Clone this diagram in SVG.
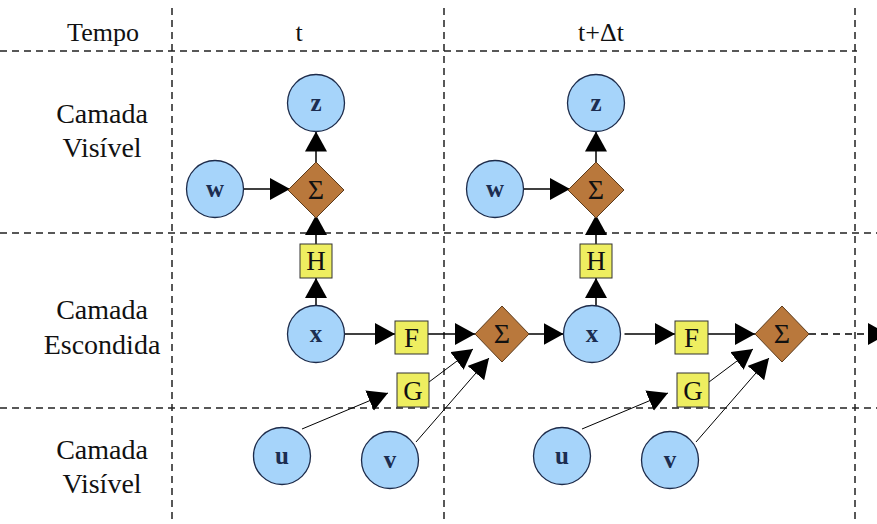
<svg xmlns="http://www.w3.org/2000/svg" width="877" height="524" viewBox="0 0 877 524" font-family="'Liberation Serif', 'DejaVu Serif', 'Times New Roman', serif">
  <defs>
    <style>
      .grid { stroke: #222; stroke-width: 1.5; stroke-dasharray: 7 5; fill: none; }
      .var circle { fill: #a6d4fa; stroke: #1d2b4a; stroke-width: 1.3; }
      .var text { font-size: 25px; font-weight: bold; fill: #1c2d50; text-anchor: middle; }
      .sum polygon { fill: #b9783c; stroke: #5a3a1c; stroke-width: 1; }
      .sum text { font-size: 28px; fill: #111; text-anchor: middle; }
      .fn rect { fill: #eeee60; stroke: #333; stroke-width: 1; }
      .fn text { font-size: 27px; fill: #111; text-anchor: middle; }
      .label { font-size: 28px; fill: #111; text-anchor: middle; }
      .head { font-size: 26px; fill: #111; text-anchor: middle; }
      .conn { stroke: #000; stroke-width: 1.5; fill: none; marker-end: url(#ah); }
      .thin { stroke-width: 1; }
      .dash { stroke-dasharray: 7 5; }
    </style>
    <marker id="ah" markerUnits="userSpaceOnUse" markerWidth="20" markerHeight="22" refX="20" refY="11" orient="auto">
      <path d="M0,0 L20,11 L0,22 Z" fill="#000"/>
    </marker>
  </defs>

  <rect width="877" height="524" fill="#fff"/>

  <!-- layer / time grid -->
  <g id="grid">
    <line class="grid" x1="0" y1="51" x2="857" y2="51"/>
    <line class="grid" x1="0" y1="233" x2="877" y2="233"/>
    <line class="grid" x1="0" y1="408" x2="877" y2="408"/>
    <line class="grid" x1="172" y1="8" x2="172" y2="524"/>
    <line class="grid" x1="444" y1="8" x2="444" y2="524"/>
    <line class="grid" x1="855" y1="8" x2="855" y2="524"/>
  </g>

  <!-- headings -->
  <g id="labels">
    <text class="head" x="103" y="41">Tempo</text>
    <text class="head" x="299" y="41">t</text>
    <text class="head" x="601" y="41">t+Δt</text>
    <text class="label" x="102" y="123">Camada</text>
    <text class="label" x="102" y="157">Visível</text>
    <text class="label" x="102" y="319">Camada</text>
    <text class="label" x="102" y="354">Escondida</text>
    <text class="label" x="102" y="459">Camada</text>
    <text class="label" x="102" y="493">Visível</text>
  </g>

  <!-- connectors -->
  <g id="connectors">
    <!-- time t -->
    <line class="conn" x1="243.5" y1="189" x2="290" y2="189"/>
    <line class="conn" x1="316" y1="163" x2="316" y2="131.5"/>
    <line class="conn" x1="316" y1="244" x2="316" y2="215"/>
    <line class="conn" x1="316" y1="306" x2="316" y2="278"/>
    <line class="conn" x1="344.5" y1="334" x2="395" y2="334"/>
    <line class="conn" x1="428" y1="334" x2="475" y2="334"/>
    <line class="conn thin" x1="302" y1="429" x2="388" y2="393"/>
    <line class="conn thin" x1="429" y1="382" x2="473" y2="349"/>
    <line class="conn thin" x1="416" y1="442" x2="489" y2="358"/>
    <line class="conn" x1="529" y1="334" x2="563.5" y2="334"/>
    <!-- time t+dt -->
    <line class="conn" x1="523.5" y1="189" x2="570" y2="189"/>
    <line class="conn" x1="596" y1="163" x2="596" y2="131.5"/>
    <line class="conn" x1="596" y1="244" x2="596" y2="215"/>
    <line class="conn" x1="596" y1="306" x2="596" y2="278"/>
    <line class="conn" x1="624.5" y1="334" x2="675" y2="334"/>
    <line class="conn" x1="708" y1="334" x2="755" y2="334"/>
    <line class="conn thin" x1="582" y1="429" x2="668" y2="393"/>
    <line class="conn thin" x1="709" y1="382" x2="753" y2="349"/>
    <line class="conn thin" x1="696" y1="442" x2="769" y2="358"/>
    <line class="conn dash" x1="809" y1="334" x2="888" y2="334"/>
  </g>

  <!-- nodes, time t -->
  <g id="z1" class="var"><circle cx="316" cy="103" r="28.5"/><text x="316" y="111">z</text></g>
  <g id="w1" class="var"><circle cx="215" cy="189" r="28.5"/><text x="215" y="197">w</text></g>
  <g id="sum1" class="sum"><polygon points="316,162 344,190 316,218 288,190"/><text x="316" y="199">Σ</text></g>
  <g id="h1" class="fn"><rect x="300" y="244" width="32" height="34"/><text x="316" y="270">H</text></g>
  <g id="x1" class="var"><circle cx="316" cy="334" r="28.5"/><text x="316" y="342">x</text></g>
  <g id="f1" class="fn"><rect x="395" y="321" width="33" height="33"/><text x="411.5" y="347">F</text></g>
  <g id="g1" class="fn"><rect x="397" y="373" width="32" height="34"/><text x="413" y="400">G</text></g>
  <g id="sum2" class="sum"><polygon points="502,306 529,334 502,362 475,334"/><text x="502" y="343">Σ</text></g>
  <g id="u1" class="var"><circle cx="282" cy="456" r="28.5"/><text x="282" y="464">u</text></g>
  <g id="v1" class="var"><circle cx="390" cy="460" r="28.5"/><text x="390" y="468">v</text></g>

  <!-- nodes, time t+dt -->
  <g id="z2" class="var"><circle cx="596" cy="103" r="28.5"/><text x="596" y="111">z</text></g>
  <g id="w2" class="var"><circle cx="495" cy="189" r="28.5"/><text x="495" y="197">w</text></g>
  <g id="sum3" class="sum"><polygon points="596,162 624,190 596,218 568,190"/><text x="596" y="199">Σ</text></g>
  <g id="h2" class="fn"><rect x="580" y="244" width="32" height="34"/><text x="596" y="270">H</text></g>
  <g id="x2" class="var"><circle cx="592" cy="334" r="28.5"/><text x="592" y="342">x</text></g>
  <g id="f2" class="fn"><rect x="675" y="321" width="33" height="33"/><text x="691.5" y="347">F</text></g>
  <g id="g2" class="fn"><rect x="677" y="373" width="32" height="34"/><text x="693" y="400">G</text></g>
  <g id="sum4" class="sum"><polygon points="782,306 809,334 782,362 755,334"/><text x="782" y="343">Σ</text></g>
  <g id="u2" class="var"><circle cx="562" cy="456" r="28.5"/><text x="562" y="464">u</text></g>
  <g id="v2" class="var"><circle cx="670" cy="460" r="28.5"/><text x="670" y="468">v</text></g>
</svg>
